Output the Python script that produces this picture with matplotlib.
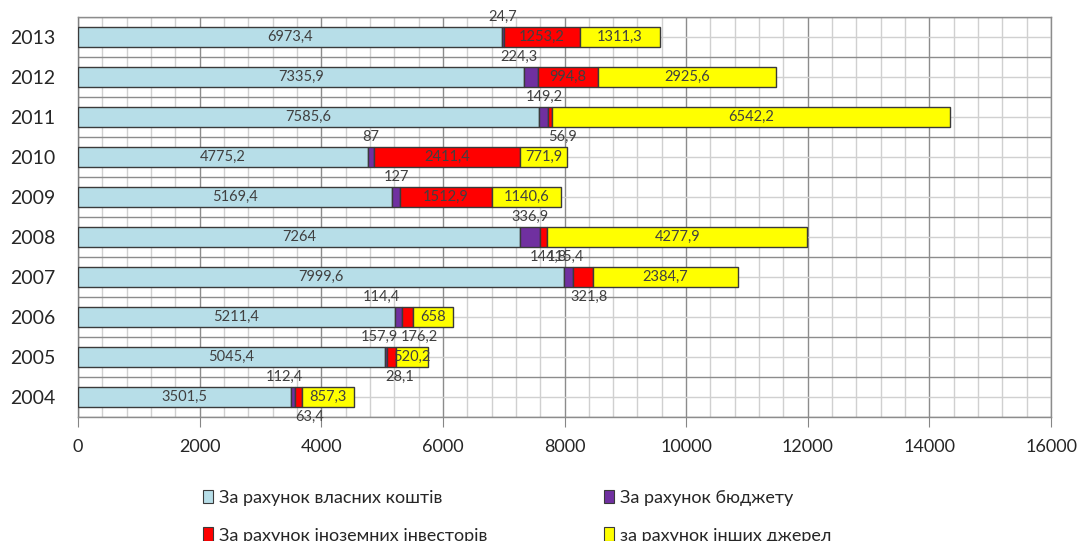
import matplotlib
matplotlib.use('Agg')
import matplotlib.pyplot as plt
import numpy as np
from matplotlib.ticker import MultipleLocator
from matplotlib.patches import Patch

plt.rcParams['font.family'] = ['Lato', 'Noto Sans', 'DejaVu Sans']

# investment sources by year, bottom (2004) to top (2013)
years = ['2004', '2005', '2006', '2007', '2008', '2009', '2010', '2011', '2012', '2013']
own_funds = [3501.5, 5045.4, 5211.4, 7999.6, 7264, 5169.4, 4775.2, 7585.6, 7335.9, 6973.4]
budget = [63.4, 28.1, 114.4, 144.8, 336.9, 127, 87, 149.2, 224.3, 24.7]
foreign = [112.4, 157.9, 176.2, 321.8, 115.4, 1512.9, 2411.4, 56.9, 994.8, 1253.2]
other = [857.3, 520.2, 658, 2384.7, 4277.9, 1140.6, 771.9, 6542.2, 2925.6, 1311.3]

series_names = ['За рахунок власних коштів', 'За рахунок бюджету',
                'За рахунок іноземних інвесторів', 'за рахунок інших джерел']
colors = ['#B7DEE8', '#7030A0', '#FF0000', '#FFFF00']

# small segments get their label outside the bar: (side, shift in data units)
outside = {
    ('2013', 1): (-1, 0), ('2012', 1): (-1, -200), ('2011', 1): (-1, 0),
    ('2011', 2): (1, 200), ('2010', 1): (-1, 0), ('2009', 1): (-1, 0),
    ('2008', 1): (-1, 0), ('2008', 2): (1, 360), ('2007', 1): (-1, -330),
    ('2007', 2): (1, 100), ('2006', 1): (-1, -280), ('2006', 2): (1, 200),
    ('2005', 1): (1, 230), ('2005', 2): (-1, -200), ('2004', 1): (1, 280),
    ('2004', 2): (-1, -230),
}

def fmt(v):
    s = ('%.1f' % v).rstrip('0').rstrip('.')
    return s.replace('.', ',')

fig = plt.figure(figsize=(10.83, 5.41), dpi=100)
ax = fig.add_axes([0.072, 0.2292, 0.8985, 0.7394])

y = np.arange(len(years))
series = [own_funds, budget, foreign, other]
left = np.zeros(len(years))
txt = '#404040'
for k, vals in enumerate(series):
    vals = np.array(vals, dtype=float)
    ax.barh(y, vals, left=left, height=0.52, color=colors[k],
            edgecolor='#3a3a3a', linewidth=1, zorder=3)
    for i, v in enumerate(vals):
        cx = left[i] + v / 2
        key = (years[i], k)
        if key in outside:
            side, dx = outside[key]
            ax.text(cx + dx, y[i] - side * 0.5, fmt(v), ha='center', va='center',
                    fontsize=10.5, color=txt, zorder=5)
        else:
            ax.text(cx, y[i], fmt(v), ha='center', va='center',
                    fontsize=10.5, color=txt, zorder=5)
    left = left + vals

ax.set_xlim(0, 16000)
ax.set_ylim(-0.5, len(years) - 0.5)
ax.set_yticks(y)
ax.set_yticklabels(years, fontsize=14, color='#262626')
ax.set_yticks(np.arange(-0.5, len(years), 1), minor=True)
ax.xaxis.set_major_locator(MultipleLocator(2000))
ax.xaxis.set_minor_locator(MultipleLocator(400))
ax.tick_params(axis='x', which='major', length=7, color='#868686',
               labelsize=13, labelcolor='#262626', pad=9)
ax.tick_params(axis='x', which='minor', length=0)
ax.tick_params(axis='y', which='both', length=0, pad=16)

ax.grid(True, axis='x', which='major', color='#8c8c8c', linewidth=1, zorder=0)
ax.grid(True, axis='x', which='minor', color='#d0d0d0', linewidth=1, zorder=0)
ax.grid(True, axis='y', which='minor', color='#8c8c8c', linewidth=1, zorder=0)
ax.grid(True, axis='y', which='major', color='#d0d0d0', linewidth=1, zorder=0)
ax.set_axisbelow(True)
for s in ax.spines.values():
    s.set_color('#8c8c8c')
    s.set_linewidth(1)
ax.spines['left'].set_color('#7f7f7f')

handles = [Patch(facecolor=colors[k], edgecolor='#3a3a3a', linewidth=0.8) for k in range(4)]
order = [0, 2, 1, 3]
fig.legend([handles[k] for k in order], [series_names[k] for k in order],
           loc='upper left', bbox_to_anchor=(0.172, 0.125), ncol=2, frameon=False,
           fontsize=13, handlelength=0.6, handleheight=0.8, handletextpad=0.3,
           labelspacing=1.2, columnspacing=6.45, labelcolor='#262626')

fig.savefig('out.png', dpi=100)
